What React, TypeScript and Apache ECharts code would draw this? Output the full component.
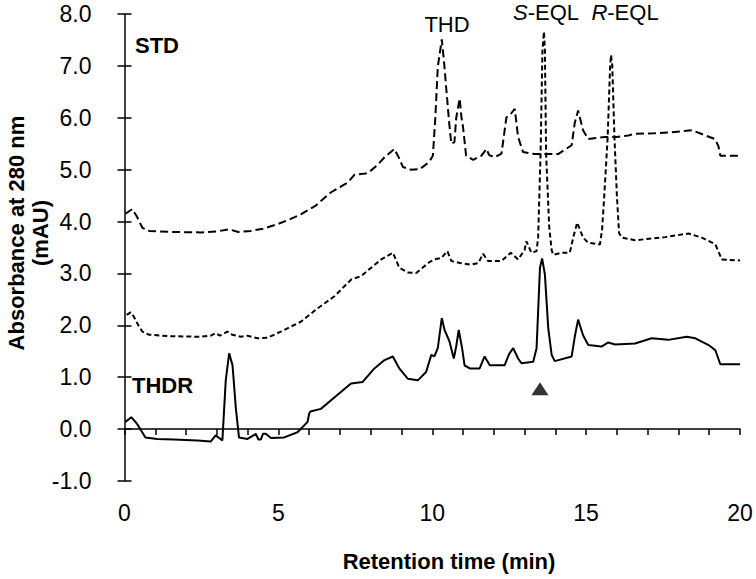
import React, { useEffect, useRef } from "react";
import * as echarts from "echarts";

const xTicks = [0, 5, 10, 15, 20];
const yRange = [-1, 8];

// STD (dashed, top)
const stdTrace: [number, number][] = [
  [0.03, 4.15], [0.25, 4.24], [0.4, 4.1], [0.58, 3.88], [0.8, 3.82], [1.5, 3.8], [2.5, 3.79], [3.0, 3.81],
  [3.4, 3.85], [3.7, 3.8], [4.1, 3.82], [4.5, 3.86], [4.97, 3.95], [5.4, 4.05], [5.73, 4.14], [6.2, 4.3],
  [6.7, 4.56], [7.25, 4.75], [7.47, 4.9], [7.9, 4.93], [8.2, 5.08], [8.45, 5.24], [8.77, 5.4], [8.9, 5.25],
  [9.05, 5.05], [9.3, 5.0], [9.6, 5.01], [9.9, 5.15], [10.02, 5.27], [10.1, 6.0], [10.18, 6.98], [10.31, 7.51],
  [10.38, 7.1], [10.46, 6.53], [10.55, 5.9], [10.62, 5.5], [10.72, 5.53], [10.78, 6.0], [10.89, 6.37],
  [10.95, 6.0], [11.0, 5.82], [11.1, 5.27], [11.33, 5.19], [11.6, 5.27], [11.76, 5.4], [11.85, 5.28],
  [12.03, 5.24], [12.25, 5.31], [12.41, 6.01], [12.52, 6.05], [12.68, 6.17], [12.79, 5.63], [12.95, 5.34],
  [13.33, 5.3], [13.8, 5.3], [14.09, 5.3], [14.53, 5.47], [14.63, 5.9], [14.74, 6.14], [14.9, 5.76],
  [15.07, 5.59], [15.61, 5.63], [16.0, 5.63], [16.37, 5.66], [16.59, 5.69], [17.2, 5.7], [17.78, 5.72],
  [18.44, 5.76], [18.87, 5.66], [19.19, 5.59], [19.3, 5.45], [19.36, 5.27], [20, 5.27],
];

// EQL standard (fine dashed, middle)
const eqlTrace: [number, number][] = [
  [0.07, 2.2], [0.2, 2.25], [0.3, 2.17], [0.45, 2.0], [0.58, 1.88], [0.79, 1.82], [1.5, 1.79], [2.48, 1.78],
  [2.8, 1.8], [2.96, 1.85], [3.1, 1.8], [3.34, 1.88], [3.5, 1.82], [3.78, 1.78], [4.0, 1.8], [4.32, 1.75],
  [4.65, 1.76], [5.08, 1.88], [5.73, 2.07], [6.28, 2.33], [6.82, 2.56], [7.36, 2.88], [7.69, 2.95],
  [8.34, 3.27], [8.72, 3.4], [8.93, 3.11], [9.2, 3.02], [9.48, 3.01], [9.91, 3.22], [10.07, 3.27],
  [10.3, 3.3], [10.49, 3.43], [10.62, 3.24], [10.9, 3.2], [11.27, 3.17], [11.5, 3.2], [11.65, 3.38],
  [11.81, 3.24], [12.25, 3.24], [12.55, 3.4], [12.79, 3.27], [13.0, 3.45], [13.06, 3.62], [13.22, 3.4],
  [13.39, 3.43], [13.44, 3.69], [13.52, 5.3], [13.58, 7.3], [13.63, 7.66], [13.66, 7.3], [13.7, 5.3],
  [13.8, 3.9], [13.88, 3.45], [13.93, 3.36], [14.2, 3.4], [14.47, 3.4], [14.58, 3.69], [14.71, 3.98],
  [14.9, 3.69], [15.07, 3.59], [15.45, 3.56], [15.52, 3.85], [15.6, 4.6], [15.7, 5.63], [15.78, 7.0],
  [15.81, 7.21], [15.85, 7.0], [15.92, 5.63], [16.0, 4.5], [16.07, 3.78], [16.16, 3.69], [16.59, 3.64],
  [17.57, 3.7], [18.33, 3.77], [18.76, 3.69], [19.2, 3.56], [19.41, 3.27], [20, 3.25],
];

// THDR sample (solid, bottom)
const thdrTrace: [number, number][] = [
  [0.03, 0.14], [0.22, 0.23], [0.41, 0.1], [0.68, -0.16], [1.06, -0.19], [1.6, -0.2], [2.37, -0.22],
  [2.8, -0.24], [2.96, -0.12], [3.1, -0.18], [3.18, -0.22], [3.29, 0.94], [3.4, 1.46], [3.51, 1.23],
  [3.62, 0.39], [3.72, -0.16], [4.0, -0.19], [4.27, -0.09], [4.35, -0.2], [4.43, -0.2], [4.5, -0.09],
  [4.59, -0.09], [4.76, -0.17], [5.19, -0.16], [5.62, -0.06], [5.95, 0.14], [6.0, 0.3], [6.04, 0.34],
  [6.38, 0.39], [7.04, 0.72], [7.36, 0.88], [7.74, 0.91], [8.12, 1.17], [8.45, 1.33], [8.72, 1.4],
  [8.93, 1.17], [9.21, 0.97], [9.53, 0.94], [9.8, 1.1], [9.97, 1.43], [10.07, 1.4], [10.18, 1.56],
  [10.31, 2.14], [10.4, 1.91], [10.56, 1.69], [10.7, 1.36], [10.78, 1.6], [10.86, 1.91], [10.97, 1.56],
  [11.05, 1.23], [11.22, 1.17], [11.54, 1.17], [11.7, 1.4], [11.87, 1.23], [12.35, 1.23], [12.5, 1.45],
  [12.63, 1.56], [12.79, 1.36], [12.9, 1.27], [13.28, 1.3], [13.39, 1.56], [13.5, 3.11], [13.57, 3.29],
  [13.66, 2.98], [13.77, 1.94], [13.88, 1.43], [13.98, 1.31], [14.53, 1.4], [14.64, 1.81], [14.74, 2.11],
  [14.9, 1.81], [15.07, 1.62], [15.5, 1.59], [15.72, 1.67], [15.94, 1.63], [16.59, 1.65], [17.13, 1.75],
  [17.67, 1.72], [18.27, 1.78], [18.55, 1.75], [18.98, 1.62], [19.2, 1.52], [19.36, 1.25], [20, 1.25],
];

const markerPoint: [number, number][] = [[13.5, 0.78]];

const FONT = "'Liberation Sans', Arial, Helvetica, sans-serif";

export default function App() {
  const ref = useRef<HTMLDivElement>(null);
  useEffect(() => {
    if (!ref.current) return;
    const chart = echarts.init(ref.current, null, { renderer: "svg" });
    const axisLine = { show: true, lineStyle: { color: "#000", width: 1.5 } };
    chart.setOption({
      animation: false,
      backgroundColor: "#fff",
      grid: { left: 124.5, right: 16, top: 14, bottom: 98, containLabel: false },
      xAxis: {
        type: "value",
        min: xTicks[0],
        max: xTicks[xTicks.length - 1],
        interval: 1,
        axisLine,
        axisTick: { show: true, inside: false, length: 6, lineStyle: { color: "#000", width: 1.5 } },
        axisLabel: {
          formatter: (v: number) => (xTicks.includes(v) ? String(v) : ""),
          color: "#000",
          fontFamily: FONT,
          fontSize: 23,
          margin: 20,
        },
        splitLine: { show: false },
      },
      yAxis: [
        {
          type: "value",
          min: yRange[0],
          max: yRange[1],
          interval: 1,
          axisLine,
          axisTick: { show: true, inside: false, length: 7, lineStyle: { color: "#000", width: 1.5 } },
          axisLabel: {
            formatter: (v: number) => v.toFixed(1),
            color: "#000",
            fontFamily: FONT,
            fontSize: 23,
            margin: 33,
          },
          splitLine: { show: false },
        },
        {
          type: "value",
          position: "left",
          min: yRange[0],
          max: yRange[1],
          interval: 1,
          axisLine: { show: false },
          axisTick: { show: true, inside: true, length: 7, lineStyle: { color: "#000", width: 1.5 } },
          axisLabel: { show: false },
          splitLine: { show: false },
        },
      ],
      series: [
        {
          type: "line",
          data: stdTrace,
          showSymbol: false,
          lineStyle: { color: "#000", width: 2, type: [8, 4] },
        },
        {
          type: "line",
          data: eqlTrace,
          showSymbol: false,
          lineStyle: { color: "#000", width: 2, type: [5, 3] },
        },
        {
          type: "line",
          data: thdrTrace,
          showSymbol: false,
          lineStyle: { color: "#000", width: 2 },
        },
        {
          type: "scatter",
          data: markerPoint,
          symbol: "triangle",
          symbolSize: [17, 13],
          itemStyle: { color: "#000" },
        },
      ],
      graphic: [
        {
          type: "text",
          x: 28,
          y: 233,
          rotation: Math.PI / 2,
          style: {
            text: "Absorbance at 280 nm\n(mAU)",
            font: `bold 22px ${FONT}`,
            fill: "#000",
            align: "center",
            verticalAlign: "middle",
            lineHeight: 24,
          },
        },
        {
          type: "text",
          x: 449,
          y: 561,
          style: {
            text: "Retention time (min)",
            font: `bold 22px ${FONT}`,
            fill: "#000",
            align: "center",
            verticalAlign: "middle",
          },
        },
        {
          type: "text",
          x: 135,
          y: 45,
          style: { text: "STD", font: `bold 22px ${FONT}`, fill: "#000", align: "left", verticalAlign: "middle" },
        },
        {
          type: "text",
          x: 132,
          y: 385,
          style: { text: "THDR", font: `bold 22px ${FONT}`, fill: "#000", align: "left", verticalAlign: "middle" },
        },
        {
          type: "text",
          x: 447,
          y: 24,
          style: { text: "THD", font: `22px ${FONT}`, fill: "#000", align: "center", verticalAlign: "middle" },
        },
        {
          type: "text",
          x: 546,
          y: 12,
          style: {
            text: "{i|S}-EQL",
            font: `22px ${FONT}`,
            fill: "#000",
            align: "center",
            verticalAlign: "middle",
            rich: { i: { fontStyle: "italic", fontSize: 22, fontFamily: FONT } },
          },
        },
        {
          type: "text",
          x: 625,
          y: 12,
          style: {
            text: "{i|R}-EQL",
            font: `22px ${FONT}`,
            fill: "#000",
            align: "center",
            verticalAlign: "middle",
            rich: { i: { fontStyle: "italic", fontSize: 22, fontFamily: FONT } },
          },
        },
      ],
    });
    return () => chart.dispose();
  }, []);
  return (
    <div
      ref={ref}
      style={{ position: "fixed", left: 0, top: 0, width: 756, height: 579, background: "#fff" }}
    />
  );
}
